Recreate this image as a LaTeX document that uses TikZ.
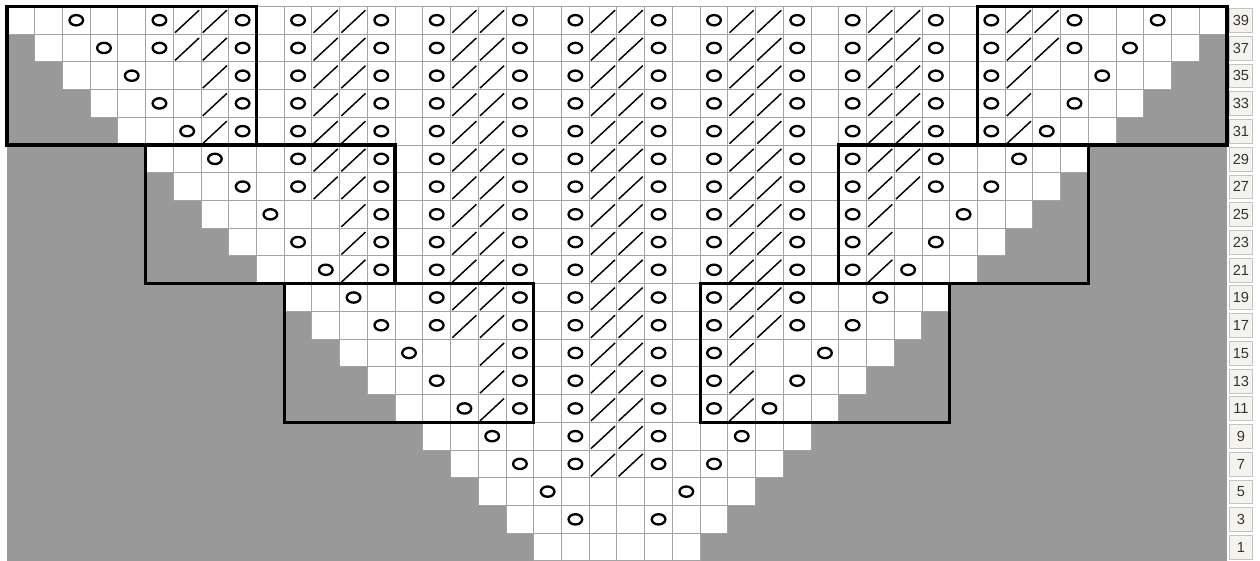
\documentclass[tikz,border=0pt]{standalone}
\usepackage{fontspec}
\newfontfamily\rowfont{Liberation Sans}
\usepackage{xcolor}
\usepackage{tikz}

\definecolor{chartgray}{HTML}{999999}
\definecolor{gridgray}{HTML}{A3A3A3}
\definecolor{tabbg}{HTML}{F4F3EE}
\definecolor{tabframe}{HTML}{C4C4C4}

% yarn over and decrease in stitch (#1,#2)
\newcommand{\yo}[2]{\draw[yarnover] (#1+0.5,#2+0.5) ellipse (0.245 and 0.185);}
\newcommand{\ktog}[2]{\draw[decrease] (#1+0.06,#2+0.05) -- (#1+0.93,#2+0.86);}

\begin{document}
\begin{tikzpicture}[x=0.5cm,y=0.5cm,
    yarnover/.style={line width=1.2pt},
    decrease/.style={line width=0.75pt},
    motif/.style={line width=1.7pt},
    rowtab/.style={draw=tabframe,fill=tabbg,line width=0.4pt,minimum width=0.43cm,
      minimum height=0.43cm,inner sep=0pt,text=black!80,
      font=\rowfont\fontsize{7.5}{8}\selectfont}]
  \useasboundingbox (-0.25,0) rectangle (45.19,20.23);
  \fill[chartgray] (0,0) rectangle (44,20);
  % row r holds stitches 19-r .. 24+r
  \foreach \r in {0,...,19} {
    \fill[white] (19-\r,\r) rectangle (25+\r,\r+1);
    \draw[gridgray,line width=0.5pt,step=0.5cm] (19-\r,\r) grid (25+\r,\r+1);
  }
  % motif frames
  \foreach \k in {0,1,2} {
    \draw[motif] (5*\k,15-5*\k) rectangle (5*\k+9,20-5*\k);
    \draw[motif] (35-5*\k,15-5*\k) rectangle (44-5*\k,20-5*\k);
  }
  % lace columns
  \foreach \c/\rlo in {5/18,10/13,15/8,20/3,25/8,30/13,35/18}
    \foreach \r in {\rlo,...,19} {\yo{\c}{\r} \ktog{\c+1}{\r} \ktog{\c+2}{\r} \yo{\c+3}{\r}}
  \foreach \c/\rlo/\rhi in {5/15/17,10/10/12,15/5/7}
    \foreach \r in {\rlo,...,\rhi} {\ktog{\c+2}{\r} \yo{\c+3}{\r}}
  \foreach \c/\rlo/\rhi in {35/15/17,30/10/12,25/5/7}
    \foreach \r in {\rlo,...,\rhi} {\yo{\c}{\r} \ktog{\c+1}{\r}}
  % edge yarn overs
  \foreach \r in {1,...,19} {\yo{21-\r}{\r} \yo{22+\r}{\r}}
  % row numbers
  \foreach \r in {0,...,19} {
    \pgfmathtruncatemacro\n{2*\r+1}
    \node[rowtab] (row\n) at (44.5,\r+0.49) {\n};
  }
\end{tikzpicture}
\end{document}
